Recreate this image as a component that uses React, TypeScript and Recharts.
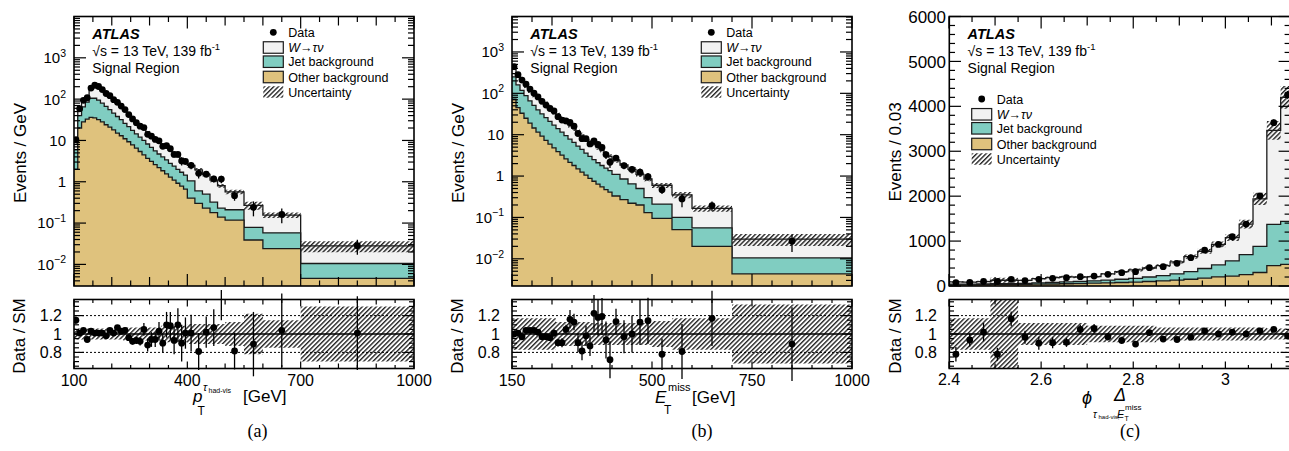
import React from 'react';
import { ComposedChart, Area, Scatter, ErrorBar, XAxis, YAxis, ReferenceLine } from 'recharts';

const FONT = '"Liberation Sans", Arial, Helvetica, sans-serif';
const SERIF = '"Liberation Serif", "DejaVu Serif", "Times New Roman", serif';
const COL_W = '#f2f2f2';
const COL_JET = '#80cdc1';
const COL_OTHER = '#dfc27d';

// ---------------- (a) tau visible pT ----------------
const ptEdges = [100, 110, 120, 130, 140, 150, 160, 170, 180, 190, 200, 210, 220, 230, 240, 250, 260, 270, 280, 290, 300, 310, 320, 330, 340, 350, 360, 370, 380, 390, 400, 420, 440, 460, 480, 500, 550, 600, 700, 1000];
const ptOther = [2.0, 20, 28, 33, 36, 35, 32, 28, 24, 21, 18, 15, 13, 11, 9.3, 7.8, 6.5, 5.4, 4.5, 3.7, 3.1, 2.6, 2.2, 1.85, 1.55, 1.3, 1.1, 0.92, 0.78, 0.66, 0.4, 0.3, 0.23, 0.18, 0.14, 0.118, 0.039, 0.024, 0.0046];
const ptJet = [4, 20, 37, 52, 69, 70, 63, 52, 43, 35, 28, 23, 19, 15, 12.2, 9.7, 8.0, 6.6, 5.5, 4.5, 3.7, 3.0, 2.5, 2.15, 1.85, 1.5, 1.3, 1.08, 0.92, 0.79, 0.65, 0.3, 0.27, 0.14, 0.09, 0.092, 0.04, 0.034, 0.0059];
const ptWtau = [3.0, 18, 25, 30, 75, 110, 105, 88, 73, 60, 50, 40, 34, 28, 22.5, 18.5, 14.5, 12, 9.5, 7.8, 6.7, 5.7, 4.8, 4.0, 3.4, 3.0, 2.5, 2.2, 1.9, 1.65, 1.45, 1.35, 1.0, 0.78, 0.57, 0.36, 0.19, 0.098, 0.0175];
const ptData = [10.4, 58.6, 93.6, 108, 185, 217, 202, 170, 137, 121, 97, 83.5, 68, 56, 42.2, 33.1, 27, 22.1, 20.5, 14.1, 12.7, 10.6, 9.8, 7.2, 7.5, 6.3, 4.6, 4.6, 3.2, 3.1, 2.5, 1.6, 1.53, 1.18, 1.16, 0.46, 0.24, 0.162, 0.0283];
const ptRatio = [1.15, 1.01, 1.04, 0.94, 1.03, 1.01, 1.01, 1.01, 0.98, 1.04, 1.01, 1.07, 1.03, 1.04, 0.96, 0.92, 0.93, 0.92, 1.05, 0.88, 0.94, 0.94, 1.03, 0.9, 1.1, 1.09, 0.93, 1.1, 0.9, 1.01, 1.01, 0.81, 1.02, 1.07, 1.45, 0.815, 0.89, 1.04, 1.01];
const ptRatioErr = [0.04, 0.02, 0.02, 0.02, 0.015, 0.015, 0.015, 0.015, 0.02, 0.02, 0.02, 0.025, 0.025, 0.03, 0.03, 0.035, 0.04, 0.045, 0.07, 0.07, 0.08, 0.08, 0.1, 0.1, 0.14, 0.15, 0.15, 0.18, 0.2, 0.17, 0.2, 0.2, 0.17, 0.2, 0.3, 0.2, 0.35, 0.4, 0.4];
const ptUnc = [0.06, 0.06, 0.06, 0.06, 0.06, 0.06, 0.06, 0.06, 0.06, 0.06, 0.06, 0.06, 0.06, 0.07, 0.07, 0.07, 0.07, 0.07, 0.07, 0.07, 0.07, 0.07, 0.07, 0.09, 0.09, 0.09, 0.09, 0.09, 0.09, 0.09, 0.11, 0.11, 0.11, 0.11, 0.11, 0.13, 0.22, 0.15, 0.3];
const ptXLabeled = [100, 400, 700, 1000];
const ptXMedium = [200, 300, 500, 600, 800, 900];
const ptXMinor = [150, 250, 350, 450, 550, 650, 750, 850, 950];

// ---------------- (b) missing ET ----------------
const metEdges = [150, 160, 170, 180, 190, 200, 210, 220, 230, 240, 250, 260, 270, 280, 290, 300, 310, 320, 330, 340, 350, 360, 370, 380, 390, 400, 420, 440, 460, 480, 500, 550, 600, 700, 1000];
const metOther = [72, 45, 33, 25, 19, 14.5, 11.5, 9.2, 7.3, 5.9, 4.8, 3.9, 3.2, 2.6, 2.15, 1.8, 1.5, 1.25, 1.05, 0.88, 0.75, 0.64, 0.55, 0.47, 0.41, 0.33, 0.27, 0.22, 0.2, 0.13, 0.095, 0.051, 0.02, 0.0043];
const metJet = [178, 115, 85, 63, 47, 36.5, 28.5, 22.8, 18.7, 15.1, 12.2, 10.1, 8.3, 6.9, 5.65, 4.7, 3.8, 3.15, 2.55, 2.12, 1.75, 1.46, 1.25, 1.08, 0.94, 0.77, 0.58, 0.43, 0.3, 0.17, 0.115, 0.049, 0.036, 0.0062];
const metWtau = [190, 120, 97, 72, 56, 46, 40, 34, 28, 24, 20, 16, 13.5, 11, 9.2, 7.7, 6.5, 5.4, 4.6, 3.9, 3.3, 2.8, 2.3, 1.95, 1.65, 1.3, 1.0, 0.8, 0.6, 0.55, 0.39, 0.25, 0.109, 0.0195];
const metData = [440, 283, 209, 166, 127, 101, 82, 64, 52, 43, 37.4, 27.2, 22.6, 21.5, 19.7, 16, 10.7, 8.0, 8.0, 6.0, 7.1, 5.8, 4.9, 3.3, 2.16, 2.72, 1.79, 1.45, 1.24, 0.97, 0.47, 0.28, 0.193, 0.0267];
const metRatio = [1.0, 1.01, 0.97, 1.04, 1.04, 1.04, 1.02, 0.97, 0.97, 0.96, 1.01, 0.905, 0.905, 1.05, 1.16, 1.13, 0.905, 0.815, 0.98, 0.87, 1.225, 1.18, 1.19, 0.935, 0.72, 1.135, 0.97, 1.0, 1.13, 1.145, 0.78, 0.81, 1.17, 0.89];
const metRatioErr = [0.02, 0.02, 0.02, 0.02, 0.02, 0.02, 0.025, 0.03, 0.03, 0.035, 0.04, 0.04, 0.05, 0.05, 0.1, 0.09, 0.1, 0.1, 0.11, 0.11, 0.2, 0.2, 0.2, 0.2, 0.2, 0.14, 0.18, 0.2, 0.25, 0.25, 0.17, 0.3, 0.3, 0.4];
const metUnc = [0.17, 0.17, 0.17, 0.17, 0.17, 0.17, 0.17, 0.17, 0.17, 0.17, 0.17, 0.13, 0.13, 0.13, 0.13, 0.13, 0.13, 0.13, 0.13, 0.13, 0.12, 0.12, 0.12, 0.12, 0.12, 0.12, 0.12, 0.12, 0.12, 0.12, 0.14, 0.17, 0.17, 0.32];
const metXLabeled = [150, 500, 750, 1000];
const metXMedium = [250];
const metXMinor = [200, 300, 350, 400, 450, 550, 600, 650, 700, 800, 850, 900, 950];

// ---------------- (c) delta phi ----------------
const dphiEdges = [2.4, 2.43, 2.46, 2.49, 2.52, 2.55, 2.58, 2.61, 2.64, 2.67, 2.7, 2.73, 2.76, 2.79, 2.82, 2.85, 2.88, 2.91, 2.94, 2.97, 3.0, 3.03, 3.06, 3.09, 3.12, 3.15];
const dphiOther = [25, 25, 28, 30, 32, 35, 40, 45, 50, 55, 62, 70, 78, 88, 100, 112, 130, 150, 175, 205, 220, 255, 300, 455, 480];
const dphiJet = [15, 15, 17, 20, 23, 25, 30, 35, 40, 45, 53, 60, 72, 82, 100, 118, 140, 170, 215, 265, 340, 445, 580, 915, 960];
const dphiWtau = [54, 45, 53, 78, 73, 64, 95, 108, 113, 97, 95, 138, 168, 187, 201, 225, 266, 333, 383, 456, 515, 678, 1059, 2094, 2760];
const dphiData = [73, 80, 100, 100, 149, 120, 149, 170, 185, 207, 222, 260, 296, 318, 407, 430, 504, 630, 800, 926, 1096, 1378, 2007, 3637, 4256];
const dphiRatio = [0.78, 0.935, 1.02, 0.78, 1.165, 0.965, 0.9, 0.905, 0.91, 1.05, 1.06, 0.97, 0.93, 0.89, 1.015, 0.945, 0.94, 0.965, 1.035, 1.0, 1.02, 1.0, 1.035, 1.05, 0.98];
const dphiRatioErr = [0.08, 0.07, 0.1, 0.07, 0.08, 0.07, 0.07, 0.06, 0.05, 0.05, 0.05, 0.04, 0.04, 0.03, 0.03, 0.02, 0.02, 0.02, 0.02, 0.02, 0.02, 0.02, 0.02, 0.02, 0.02];
const dphiUnc = [0.17, 0.17, 0.17, 0.45, 0.45, 0.12, 0.12, 0.12, 0.12, 0.12, 0.09, 0.09, 0.09, 0.09, 0.09, 0.07, 0.07, 0.07, 0.07, 0.07, 0.07, 0.07, 0.07, 0.06, 0.06];
const dphiXLabeled = [2.4, 2.6, 2.8, 3.0];
const dphiXMedium = [2.5, 2.7, 2.9, 3.1];
const dphiXMinor = [2.45, 2.55, 2.65, 2.75, 2.85, 2.95, 3.05];

// ---------------- y ticks ----------------
const logLabeled = [0.01, 0.1, 1, 10, 100, 1000];
const linLabeled = [0, 1000, 2000, 3000, 4000, 5000, 6000];
const ratioLabeled = [0.8, 1, 1.2];
const ratioMinor = [0.65, 0.7, 0.75, 0.85, 0.9, 0.95, 1.05, 1.1, 1.15, 1.25, 1.3, 1.35];

const logMinor = (lo: number, hi: number) => {
  const out: number[] = [];
  for (let e = -4; e <= 4; e++) {
    for (let m = 2; m <= 9; m++) {
      const v = m * Math.pow(10, e);
      if (v > lo * 1.0001 && v < hi * 0.9999) out.push(v);
    }
  }
  return out;
};
const linMinor = () => {
  const out: number[] = [];
  for (let v = 200; v < 6000; v += 200) if (v % 1000 !== 0) out.push(v);
  return out;
};

// ---------------- geometry ----------------
const MAIN_TOP = 16.5;
const MAIN_BOTTOM = 286;
const RATIO_TOP = 299.5;
const RATIO_BOTTOM = 368.5;
const LM = 74; // plot left inside each chart
const RM = 24;
const AX = 1; // axis thickness reserved (must be > 0 for recharts to draw the axis)

type Cfg = {
  L: number;
  W: number;
  xDomain: [number, number];
  edges: number[];
  other: number[];
  jet: number[];
  wtau: number[];
  data: number[];
  ratio: number[];
  ratioErr: number[];
  unc: number[];
  yLog: boolean;
  yDomain: [number, number];
  yLabeled: number[];
  yMinor: number[];
  yFont: number;
  yGap: number;
  xLabeled: number[];
  xMedium: number[];
  xMinor: number[];
  xFmt: (v: number) => string;
};

const sortNum = (a: number[]) => [...a].sort((p, q) => p - q);

function buildRows(c: Cfg) {
  const n = c.other.length;
  return c.edges.map((e, i) => {
    const j = Math.min(i, n - 1);
    const o = c.other[j];
    const oj = o + c.jet[j];
    const tot = oj + c.wtau[j];
    return {
      x: e,
      other: o,
      otherJet: oj,
      total: tot,
      band: [tot * (1 - c.unc[j]), tot * (1 + c.unc[j])],
      rband: [1 - c.unc[j], 1 + c.unc[j]],
    };
  });
}

function buildPoints(c: Cfg) {
  return c.data.map((d, i) => ({
    x: (c.edges[i] + c.edges[i + 1]) / 2,
    y: d,
    err: (d * c.ratioErr[i]) / c.ratio[i],
  }));
}

function buildRatioPoints(c: Cfg) {
  return c.ratio.map((r, i) => ({
    x: (c.edges[i] + c.edges[i + 1]) / 2,
    y: r,
    err: c.ratioErr[i],
  }));
}

const logLabel = (v: number, x: number, y: number, font: number) => {
  const e = Math.round(Math.log10(v));
  if (e === 0) return <text x={x} y={y} dy="0.36em" textAnchor="end" fontSize={font} fontFamily={FONT} fill="#000">1</text>;
  if (e === 1) return <text x={x} y={y} dy="0.36em" textAnchor="end" fontSize={font} fontFamily={FONT} fill="#000">10</text>;
  const sup = e < 0 ? '\u2212' + String(-e) : String(e);
  return (
    <text x={x} y={y} dy="0.36em" textAnchor="end" fontSize={font} fontFamily={FONT} fill="#000">
      10<tspan dy={-6.5} fontSize={font * 0.7}>{sup}</tspan>
    </text>
  );
};

function makeXTick(o: { labeled: number[]; medium: number[]; top: number; bottom: number; lens: number[]; show: boolean; fmt: (v: number) => string }) {
  return (p: any) => {
    const v = p.payload ? p.payload.value : 0;
    const x = p.payload && p.payload.coordinate != null ? p.payload.coordinate : p.x;
    const lvl = o.labeled.includes(v) ? 0 : o.medium.includes(v) ? 1 : 2;
    const len = o.lens[lvl];
    return (
      <g>
        <line x1={x} x2={x} y1={o.bottom} y2={o.bottom - len} stroke="#000" strokeWidth={1.2} />
        <line x1={x} x2={x} y1={o.top} y2={o.top + len} stroke="#000" strokeWidth={1.2} />
        {o.show && lvl === 0 ? (
          <text x={x} y={o.bottom + 17} textAnchor="middle" fontSize={16} fontFamily={FONT} fill="#000">
            {o.fmt(v)}
          </text>
        ) : null}
      </g>
    );
  };
}

function makeYTick(o: { labeled: number[]; left: number; right: number; lens: number[]; label: (v: number, x: number, y: number) => React.ReactNode; gap: number }) {
  return (p: any) => {
    const v = p.payload ? p.payload.value : 0;
    const y = p.payload && p.payload.coordinate != null ? p.payload.coordinate : p.y;
    const lvl = o.labeled.includes(v) ? 0 : 1;
    const len = o.lens[lvl];
    return (
      <g>
        <line x1={o.left} x2={o.left + len} y1={y} y2={y} stroke="#000" strokeWidth={1.2} />
        <line x1={o.right} x2={o.right - len} y1={y} y2={y} stroke="#000" strokeWidth={1.2} />
        {lvl === 0 ? o.label(v, o.left - o.gap, y) : null}
      </g>
    );
  };
}

const dotShape = (p: any) => {
  if (p.cx == null || p.cy == null || !isFinite(p.cx) || !isFinite(p.cy)) return <g />;
  return <circle cx={p.cx} cy={p.cy} r={3.4} fill="#000" />;
};

function MainChart({ c }: { c: Cfg }) {
  const w = LM + c.W + RM;
  const h = 300;
  const rows = buildRows(c);
  const pts = buildPoints(c);
  const plotRight = LM + c.W;
  const xTicks = sortNum([...c.xLabeled, ...c.xMedium, ...c.xMinor]);
  const yTicks = sortNum([...c.yLabeled, ...c.yMinor]);
  const base = c.yDomain[0];
  const xTick = makeXTick({ labeled: c.xLabeled, medium: c.xMedium, top: MAIN_TOP, bottom: MAIN_BOTTOM, lens: [12, 9, 5.5], show: false, fmt: c.xFmt });
  const yTick = makeYTick({
    labeled: c.yLabeled,
    left: LM,
    right: plotRight,
    lens: [12, 6],
    gap: c.yGap,
    label: (v, x, y) =>
      c.yLog ? logLabel(v, x, y, c.yFont) : (
        <text x={x} y={y} dy="0.36em" textAnchor="end" fontSize={c.yFont} fontFamily={FONT} fill="#000">{String(v)}</text>
      ),
  });
  return (
    <div style={{ position: 'absolute', left: c.L - LM, top: 0, width: w, height: h }}>
      <ComposedChart width={w} height={h} data={rows} margin={{ top: MAIN_TOP, right: RM, bottom: h - MAIN_BOTTOM - AX, left: LM - AX }}>
        <XAxis dataKey="x" type="number" domain={c.xDomain} allowDataOverflow ticks={xTicks} interval={0} height={AX} axisLine={false} tickLine={false} tick={xTick} />
        <YAxis type="number" scale={c.yLog ? 'log' : 'linear'} domain={c.yDomain} allowDataOverflow ticks={yTicks} interval={0} width={AX} axisLine={false} tickLine={false} tick={yTick} />
        <Area type="stepAfter" dataKey="total" stroke="#1a1a1a" strokeWidth={1.3} fill={COL_W} fillOpacity={1} baseValue={base} isAnimationActive={false} dot={false} activeDot={false} />
        <Area type="stepAfter" dataKey="otherJet" stroke="#1a1a1a" strokeWidth={1.3} fill={COL_JET} fillOpacity={1} baseValue={base} isAnimationActive={false} dot={false} activeDot={false} />
        <Area type="stepAfter" dataKey="other" stroke="#1a1a1a" strokeWidth={1.3} fill={COL_OTHER} fillOpacity={1} baseValue={base} isAnimationActive={false} dot={false} activeDot={false} />
        <Area type="stepAfter" dataKey="band" stroke="none" fill="url(#atlasHatch)" fillOpacity={1} isAnimationActive={false} dot={false} activeDot={false} />
        <Scatter data={pts} dataKey="y" shape={dotShape} isAnimationActive={false}>
          <ErrorBar dataKey="err" direction="y" width={0} stroke="#000" strokeWidth={1.3} />
        </Scatter>
      </ComposedChart>
    </div>
  );
}

function RatioChart({ c }: { c: Cfg }) {
  const w = LM + c.W + RM;
  const top = 290;
  const h = 115;
  const pTop = RATIO_TOP - top;
  const pBottom = RATIO_BOTTOM - top;
  const rows = buildRows(c);
  const pts = buildRatioPoints(c);
  const plotRight = LM + c.W;
  const xTicks = sortNum([...c.xLabeled, ...c.xMedium, ...c.xMinor]);
  const yTicks = sortNum([...ratioLabeled, ...ratioMinor]);
  const xTick = makeXTick({ labeled: c.xLabeled, medium: c.xMedium, top: pTop, bottom: pBottom, lens: [7, 5, 3.5], show: true, fmt: c.xFmt });
  const yTick = makeYTick({
    labeled: ratioLabeled,
    left: LM,
    right: plotRight,
    lens: [10, 5],
    gap: 12,
    label: (v, x, y) => (
      <text x={x} y={y} dy="0.36em" textAnchor="end" fontSize={16} fontFamily={FONT} fill="#000">{String(v)}</text>
    ),
  });
  return (
    <div style={{ position: 'absolute', left: c.L - LM, top, width: w, height: h }}>
      <ComposedChart width={w} height={h} data={rows} margin={{ top: pTop, right: RM, bottom: h - pBottom - AX, left: LM - AX }}>
        <XAxis dataKey="x" type="number" domain={c.xDomain} allowDataOverflow ticks={xTicks} interval={0} height={AX} axisLine={false} tickLine={false} tick={xTick} />
        <YAxis type="number" domain={[0.625, 1.375]} allowDataOverflow ticks={yTicks} interval={0} width={AX} axisLine={false} tickLine={false} tick={yTick} />
        <Area type="stepAfter" dataKey="rband" stroke="none" fill="url(#atlasHatch)" fillOpacity={1} isAnimationActive={false} dot={false} activeDot={false} />
        <ReferenceLine y={1.2} stroke="#000" strokeWidth={1} strokeDasharray="2 2" />
        <ReferenceLine y={0.8} stroke="#000" strokeWidth={1} strokeDasharray="2 2" />
        <ReferenceLine y={1} stroke="#000" strokeWidth={1.3} />
        <Scatter data={pts} dataKey="y" shape={dotShape} isAnimationActive={false}>
          <ErrorBar dataKey="err" direction="y" width={0} stroke="#000" strokeWidth={1.3} />
        </Scatter>
      </ComposedChart>
    </div>
  );
}

const intFmt = (v: number) => String(v);
const dphiFmt = (v: number) => (Math.abs(v - 3) < 1e-9 ? '3' : v.toFixed(1));

const panelA: Cfg = {
  L: 74, W: 340, xDomain: [100, 1000], edges: ptEdges, other: ptOther, jet: ptJet, wtau: ptWtau,
  data: ptData, ratio: ptRatio, ratioErr: ptRatioErr, unc: ptUnc,
  yLog: true, yDomain: [0.003, 10000], yLabeled: logLabeled, yMinor: logMinor(0.003, 10000), yFont: 15, yGap: 8,
  xLabeled: ptXLabeled, xMedium: ptXMedium, xMinor: ptXMinor, xFmt: intFmt,
};
const panelB: Cfg = {
  L: 512, W: 340, xDomain: [150, 1000], edges: metEdges, other: metOther, jet: metJet, wtau: metWtau,
  data: metData, ratio: metRatio, ratioErr: metRatioErr, unc: metUnc,
  yLog: true, yDomain: [0.0022, 7200], yLabeled: logLabeled, yMinor: logMinor(0.0022, 7200), yFont: 15, yGap: 8,
  xLabeled: metXLabeled, xMedium: metXMedium, xMinor: metXMinor, xFmt: intFmt,
};
const panelC: Cfg = {
  L: 949.3, W: 341.6, xDomain: [2.4, Math.PI], edges: dphiEdges, other: dphiOther, jet: dphiJet, wtau: dphiWtau,
  data: dphiData, ratio: dphiRatio, ratioErr: dphiRatioErr, unc: dphiUnc,
  yLog: false, yDomain: [0, 6000], yLabeled: linLabeled, yMinor: linMinor(), yFont: 17, yGap: 3,
  xLabeled: dphiXLabeled, xMedium: dphiXMedium, xMinor: dphiXMinor, xFmt: dphiFmt,
};

const T = (props: any) => <text fontFamily={FONT} fill="#000" {...props} />;

function AtlasLabel({ L }: { L: number }) {
  const x = L + 18.3;
  return (
    <g>
      <T x={x} y={39.3} fontSize={14.5} fontWeight="bold" fontStyle="italic">ATLAS</T>
      <T x={x} y={55.7} fontSize={14}>
        √s = 13 TeV, 139 fb<tspan dy={-5.5} fontSize={9.5}>-1</tspan>
      </T>
      <T x={x} y={73.3} fontSize={14}>Signal Region</T>
    </g>
  );
}

function LegendBlock({ bx, tx, rows }: { bx: number; tx: number; rows: number[] }) {
  const bw = 20;
  const bh = 11.5;
  const fs = 12.5;
  const [r0, r1, r2, r3, r4] = rows;
  return (
    <g>
      <circle cx={bx + bw / 2} cy={r0} r={3.4} fill="#000" />
      <T x={tx} y={r0 + 4.5} fontSize={fs}>Data</T>
      <rect x={bx} y={r1 - bh / 2} width={bw} height={bh} fill={COL_W} stroke="#1a1a1a" strokeWidth={1.2} />
      <T x={tx} y={r1 + 4.5} fontSize={fs}>
        <tspan fontStyle="italic">W</tspan>
        <tspan>→</tspan>
        <tspan fontStyle="italic">τν</tspan>
      </T>
      <rect x={bx} y={r2 - bh / 2} width={bw} height={bh} fill={COL_JET} stroke="#1a1a1a" strokeWidth={1.2} />
      <T x={tx} y={r2 + 4.5} fontSize={fs}>Jet background</T>
      <rect x={bx} y={r3 - bh / 2} width={bw} height={bh} fill={COL_OTHER} stroke="#1a1a1a" strokeWidth={1.2} />
      <T x={tx} y={r3 + 4.5} fontSize={fs}>Other background</T>
      <rect x={bx} y={r4 - bh / 2} width={bw} height={bh} fill="url(#atlasHatch)" stroke="none" />
      <T x={tx} y={r4 + 4.5} fontSize={fs}>Uncertainty</T>
    </g>
  );
}

function Overlay() {
  const panels = [panelA, panelB, panelC];
  return (
    <svg width={1289} height={451} style={{ position: 'absolute', left: 0, top: 0, pointerEvents: 'none' }}>
      <defs>
        <pattern id="atlasHatch" patternUnits="userSpaceOnUse" width={3.3} height={3.3} patternTransform="rotate(45)">
          <line x1={0.7} y1={0} x2={0.7} y2={3.3} stroke="#1e1e1e" strokeWidth={1.35} />
        </pattern>
      </defs>
      {panels.map((p, i) => (
        <g key={i}>
          <rect x={p.L} y={MAIN_TOP} width={p.W} height={MAIN_BOTTOM - MAIN_TOP} fill="none" stroke="#000" strokeWidth={1.6} />
          <rect x={p.L} y={RATIO_TOP} width={p.W} height={RATIO_BOTTOM - RATIO_TOP} fill="none" stroke="#000" strokeWidth={1.6} />
          <AtlasLabel L={p.L} />
        </g>
      ))}
      <LegendBlock bx={74 + 189.3} tx={74 + 214.3} rows={[32.3, 47.5, 61.7, 77, 92]} />
      <LegendBlock bx={512 + 189.3} tx={512 + 214.3} rows={[32.3, 47.5, 61.7, 77, 92]} />
      <LegendBlock bx={949.3 + 22.4} tx={949.3 + 47.4} rows={[99, 114.3, 128.3, 144, 159]} />

      {/* y titles */}
      <T fontSize={17} textAnchor="middle" transform="translate(26,153) rotate(-90)">Events / GeV</T>
      <T fontSize={17} textAnchor="middle" transform="translate(464,153) rotate(-90)">Events / GeV</T>
      <T fontSize={17} textAnchor="middle" transform="translate(901,152) rotate(-90)">Events / 0.03</T>
      <T fontSize={17} textAnchor="middle" transform="translate(25,336) rotate(-90)">Data / SM</T>
      <T fontSize={17} textAnchor="middle" transform="translate(463,336) rotate(-90)">Data / SM</T>
      <T fontSize={17} textAnchor="middle" transform="translate(901,336) rotate(-90)">Data / SM</T>

      {/* x titles */}
      <T x={193} y={402} fontSize={17} fontStyle="italic">p</T>
      <T x={197.5} y={414.5} fontSize={12}>T</T>
      <T x={203} y={391} fontSize={11} fontStyle="italic">τ</T>
      <T x={208.5} y={393} fontSize={7}>had-vis</T>
      <T x={243} y={402} fontSize={17}>[GeV]</T>

      <T x={655} y={403} fontSize={17} fontStyle="italic">E</T>
      <T x={664} y={414} fontSize={12}>T</T>
      <T x={668} y={391} fontSize={11}>miss</T>
      <T x={692} y={403} fontSize={17}>[GeV]</T>

      <T x={1082} y={404} fontSize={18} fontStyle="italic">ϕ</T>
      <T x={1114} y={401} fontSize={18} fontStyle="italic">Δ</T>
      <T x={1093} y={418} fontSize={10} fontStyle="italic">τ</T>
      <T x={1098.5} y={419} fontSize={6}>had-vis,</T>
      <T x={1117} y={418} fontSize={11} fontStyle="italic">E</T>
      <T x={1124.5} y={421} fontSize={7}>T</T>
      <T x={1125} y={410} fontSize={8}>miss</T>

      {/* captions */}
      <text x={257.5} y={437} fontSize={18} fontFamily={SERIF} textAnchor="middle" fill="#000">(a)</text>
      <text x={702} y={437} fontSize={18} fontFamily={SERIF} textAnchor="middle" fill="#000">(b)</text>
      <text x={1130} y={437} fontSize={18} fontFamily={SERIF} textAnchor="middle" fill="#000">(c)</text>
    </svg>
  );
}

export default function App() {
  return (
    <div style={{ position: 'absolute', left: 0, top: 0, width: 1289, height: 451, overflow: 'hidden', background: '#fff', fontFamily: FONT }}>
      <MainChart c={panelA} />
      <RatioChart c={panelA} />
      <MainChart c={panelB} />
      <RatioChart c={panelB} />
      <MainChart c={panelC} />
      <RatioChart c={panelC} />
      <Overlay />
    </div>
  );
}
